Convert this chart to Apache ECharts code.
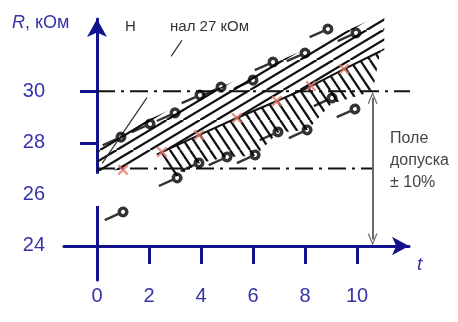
<!DOCTYPE html>
<html>
<head>
<meta charset="utf-8">
<script src="https://cdn.jsdelivr.net/npm/echarts@6/dist/echarts.min.js"></script>
<style>
  html, body { margin: 0; padding: 0; background: #fff; }
  #chart { width: 458px; height: 322px; }
</style>
</head>
<body>
<div id="chart"></div>
<script>
// оси
const xTicks = [0, 2, 4, 6, 8, 10];
const yTicks = [24, 26, 28, 30];

// измерения сопротивления (кружки) — верхняя и нижняя граница разброса
const upperPoints = [[0.92, 28.22], [2.04, 28.73], [3.0, 29.16], [3.96, 29.85], [4.77, 30.16],
  [6.0, 30.43], [6.77, 31.13], [8.0, 31.48], [8.88, 32.41], [9.96, 32.26]];
const lowerPoints = [[1.0, 25.32], [3.08, 26.64], [3.92, 27.22], [5.0, 27.45], [6.08, 27.53],
  [6.96, 28.42], [8.08, 28.5], [9.04, 29.74], [9.92, 29.31]];
// средние значения (красные крестики)
const crossPoints = [[1.0, 26.95], [2.5, 27.64], [3.92, 28.3], [5.38, 28.96], [6.92, 29.62], [8.23, 30.2], [9.5, 30.86]];

// заштрихованные области
const upperBandTop = [[0, 28], [11.05, 33]];
const upperBandBottom = [[0, 26.9], [1.0, 26.95], [2.5, 27.64], [3.92, 28.3], [5.38, 28.96],
  [6.92, 29.62], [8.23, 30.2], [9.5, 30.86], [11.05, 31.6]];
const lowerBandTop = [[2.3, 27.55], [2.5, 27.64], [3.92, 28.3], [5.38, 28.96], [6.92, 29.62],
  [8.23, 30.2], [9.5, 30.86], [10.9, 31.55]];
const lowerBandBottom = [[2.3, 27.55], [2.9, 26.6], [3.9, 27.2], [5.0, 27.45], [6.1, 27.5],
  [6.96, 28.4], [8.1, 28.5], [9.0, 29.5], [10.6, 30.0]];

// номинал и поле допуска
const nominalLine = [[0, 27], [10.6, 27]];
const limitLine = [[0, 30], [13.4, 30]];
const toleranceArrow = [[10.6, 24.25], [10.6, 29.75]];
const leaderLine = [[3.27, 31.98], [2.85, 31.35], null, [1.92, 29.75], [0.2, 27.2]];

const AXIS = '#12128e';
const LABEL = '#3434a6';
const FONT = 'Liberation Sans, Arial, sans-serif';

function hatch(w, h, step, dir) {
  const c = document.createElement('canvas');
  c.width = w; c.height = h;
  const ctx = c.getContext('2d');
  ctx.strokeStyle = '#111';
  ctx.lineWidth = 2.3;
  for (let o = -w; o <= w; o += step) {
    ctx.beginPath();
    if (dir > 0) { ctx.moveTo(o, h); ctx.lineTo(o + w, 0); }
    else { ctx.moveTo(o, 0); ctx.lineTo(o + w, h); }
    ctx.stroke();
  }
  return c;
}
const slashPattern = hatch(50, 30, 50 / 3, 1);
const backPattern = hatch(20, 30, 10, -1);

function band(top, bottom, img) {
  return function (params, api) {
    const pts = top.concat(bottom.slice().reverse()).map(p => api.coord(p));
    return {type: 'polygon', shape: {points: pts}, style: {fill: {image: img, repeat: 'repeat'}, stroke: null}};
  };
}

// кружок с "хвостиком"
const PIN = 'path://M0,4.3 L15,4.3 L15,6.7 L0,6.7 Z M25.5,5.5 A5.5,5.5 0 1 1 14.5,5.5 A5.5,5.5 0 1 1 25.5,5.5 Z M22,5.5 A2,2 0 1 0 18,5.5 A2,2 0 1 0 22,5.5 Z';
const pinAngle = 24;
const pinShift = 7.25;
const pinOffset = [-pinShift * Math.cos(pinAngle * Math.PI / 180), pinShift * Math.sin(pinAngle * Math.PI / 180)];
const CROSS = 'path://M0,1.5 L1.5,0 L5,3.5 L8.5,0 L10,1.5 L6.5,5 L10,8.5 L8.5,10 L5,6.5 L1.5,10 L0,8.5 L3.5,5 Z';
const CHEVRON = 'path://M0,10 L5,0 L10,10 L8.6,10 L5,2.6 L1.4,10 Z';

const chart = echarts.init(document.getElementById('chart'));
chart.setOption({
  animation: false,
  grid: {left: 64, top: 19, width: 345, height: 261},
  xAxis: {
    type: 'value', min: -1.27, max: 12, offset: -34,
    axisLine: {onZero: false, symbol: ['none', 'arrow'], symbolSize: [14, 17], lineStyle: {color: AXIS, width: 3}},
    axisTick: {customValues: [2, 4, 6, 8, 10], length: 18, lineStyle: {color: AXIS, width: 3}},
    axisLabel: {customValues: xTicks, margin: 40, fontSize: 20, color: LABEL, fontFamily: FONT},
    splitLine: {show: false}
  },
  yAxis: {
    type: 'value', min: 22.68, max: 32.8, offset: -33,
    axisLine: {onZero: false, symbol: ['none', 'arrow'], symbolSize: [15, 18], lineStyle: {color: AXIS, width: 3}},
    axisTick: {customValues: [26, 28, 30], length: 17, lineStyle: {color: AXIS, width: 3}},
    axisLabel: {customValues: yTicks, margin: 52, fontSize: 20, color: LABEL, fontFamily: FONT},
    splitLine: {show: false}
  },
  series: [
    {type: 'custom', renderItem: band(upperBandTop, upperBandBottom, slashPattern), data: [[0, 28]], clip: false, z: 2},
    {type: 'custom', renderItem: band(lowerBandTop, lowerBandBottom, backPattern), data: [[3, 28]], clip: false, z: 2},
    {type: 'line', data: lowerBandTop, symbol: 'none', lineStyle: {color: '#111', width: 2}, z: 3},
    {type: 'line', data: nominalLine, symbol: 'none', clip: false, lineStyle: {color: '#111', width: 2, type: [18, 6, 3, 6]}, z: 3},
    {type: 'line', data: limitLine, symbol: 'none', clip: false, lineStyle: {color: '#111', width: 2, type: [18, 6, 3, 6]}, z: 3},
    {type: 'line', data: leaderLine, symbol: 'none', connectNulls: false, lineStyle: {color: '#333', width: 1.2}, z: 3},
    {
      type: 'line', data: toleranceArrow, symbol: 'none', lineStyle: {color: 'transparent'}, z: 3,
      markLine: {
        silent: true, symbol: [CHEVRON, CHEVRON], symbolSize: [10, 12],
        label: {show: false}, lineStyle: {color: '#6a6a6a', width: 2, type: 'solid'},
        data: [[{coord: toleranceArrow[0]}, {coord: toleranceArrow[1]}]]
      },
      markArea: {
        silent: true, itemStyle: {color: '#fff'},
        data: [[{coord: [-0.85, 25.55]}, {coord: [2.4, 26.8]}]]
      }
    },
    {type: 'scatter', data: upperPoints, symbol: PIN, symbolSize: [25.5, 11], symbolRotate: pinAngle, symbolOffset: pinOffset, itemStyle: {color: '#000'}, z: 4},
    {type: 'scatter', data: lowerPoints, symbol: PIN, symbolSize: [25.5, 11], symbolRotate: pinAngle, symbolOffset: pinOffset, itemStyle: {color: '#000'}, z: 4},
    {type: 'scatter', data: crossPoints, symbol: CROSS, symbolSize: 11, itemStyle: {color: '#e0796a'}, z: 5}
  ],
  graphic: [
    {type: 'text', left: 12, top: 14, style: {text: '{i|R}, кОм', font: '18px ' + FONT, fill: LABEL, rich: {i: {fontStyle: 'italic', fontSize: 18, fill: LABEL, fontFamily: FONT}}}},
    {type: 'text', left: 125, top: 19, style: {text: 'Н', font: '15px ' + FONT, fill: '#333'}},
    {type: 'text', left: 170, top: 19, style: {text: 'нал 27 кОм', font: '15px ' + FONT, fill: '#333'}},
    {type: 'text', left: 417, top: 255, style: {text: 't', font: 'italic 19px ' + FONT, fill: LABEL}},
    {type: 'text', left: 390, top: 128, style: {text: 'Поле\nдопуска\n± 10%', font: '16px ' + FONT, lineHeight: 22, fill: '#444'}}
  ]
});
</script>
</body>
</html>
